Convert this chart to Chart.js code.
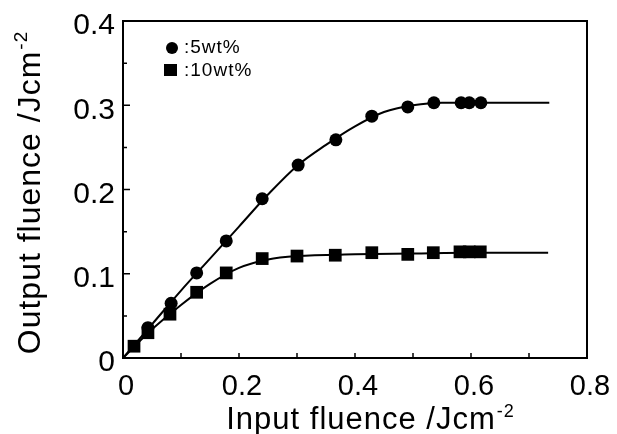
<!DOCTYPE html>
<html>
<head>
<meta charset="utf-8">
<script src="https://cdn.jsdelivr.net/npm/chart.js@4"></script>
<style>
  html, body { margin: 0; padding: 0; background: #fff; }
  #wrap { width: 617px; height: 434px; }
</style>
</head>
<body>
<div id="wrap"><canvas id="chart" width="617" height="434"></canvas></div>
<script>
// ===================
// Data
// ===================
const x5 = [0.043, 0.083, 0.127, 0.178, 0.240, 0.302, 0.367, 0.429, 0.491, 0.536, 0.583, 0.597, 0.617];
const y5 = [0.036, 0.065, 0.101, 0.139, 0.189, 0.229, 0.259, 0.287, 0.298, 0.303, 0.303, 0.303, 0.303];
const x10 = [0.019, 0.043, 0.081, 0.127, 0.178, 0.240, 0.300, 0.366, 0.429, 0.491, 0.535, 0.581, 0.597, 0.616];
const y10 = [0.014, 0.030, 0.052, 0.078, 0.101, 0.118, 0.121, 0.122, 0.125, 0.123, 0.125, 0.126, 0.126, 0.126];

// fitted curves drawn through the points
const fit5X = [0, 0.05, 0.10, 0.15, 0.20, 0.25, 0.30, 0.35, 0.40, 0.45, 0.50, 0.55, 0.60, 0.65, 0.735];
const fit5Y = [0, 0.040, 0.080, 0.118, 0.156, 0.194, 0.228, 0.253, 0.275, 0.292, 0.300, 0.303, 0.303, 0.303, 0.303];
const fit10X = [0, 0.05, 0.10, 0.15, 0.20, 0.25, 0.30, 0.40, 0.50, 0.60, 0.733];
const fit10Y = [0, 0.034, 0.063, 0.088, 0.107, 0.117, 0.121, 0.123, 0.124, 0.125, 0.125];

const legendLabels = [':5wt%', ':10wt%'];
const xTitle = 'Input fluence /Jcm';
const yTitle = 'Output fluence /Jcm';
const unitSup = '-2';

const pts = (xs, ys) => xs.map((x, i) => ({ x: x, y: ys[i] }));
const FONT = '"Liberation Sans", Arial, sans-serif';

// draws "title" + raised "-2", centred on cx, baseline at 0 of current transform
function supTitle(ctx, text, cx, base, size, supSize, rise) {
  ctx.letterSpacing = '1px';
  ctx.font = size + 'px ' + FONT;
  const w = ctx.measureText(text).width;
  ctx.font = supSize + 'px ' + FONT;
  const ws = ctx.measureText(unitSup).width;
  const sx = cx - (w + ws) / 2;
  ctx.font = size + 'px ' + FONT;
  ctx.fillText(text, sx, base);
  ctx.font = supSize + 'px ' + FONT;
  ctx.fillText(unitSup, sx + w + 1, base - rise);
  ctx.letterSpacing = '0px';
}

// ===================
// Frame, ticks, legend and titles
// ===================
const framePlugin = {
  id: 'frame',
  afterDraw(chart) {
    const ctx = chart.ctx;
    const a = chart.chartArea;
    const xs = chart.scales.x, ys = chart.scales.y;
    ctx.save();
    ctx.strokeStyle = '#000';
    ctx.lineWidth = 2;
    ctx.strokeRect(a.left, a.top, a.right - a.left, a.bottom - a.top);

    // inward ticks
    ctx.lineWidth = 1.5;
    ctx.beginPath();
    for (let i = 1; i < 8; i++) {
      const px = xs.getPixelForValue(i / 10);
      ctx.moveTo(px, a.bottom);
      ctx.lineTo(px, a.bottom - 5);
    }
    for (let i = 1; i < 8; i++) {
      const py = ys.getPixelForValue(i * 0.05);
      ctx.moveTo(a.left, py);
      ctx.lineTo(a.left + (i % 2 === 0 ? 7 : 4), py);
    }
    ctx.stroke();

    // legend
    ctx.fillStyle = '#000';
    ctx.beginPath();
    ctx.arc(172, 48, 6, 0, Math.PI * 2);
    ctx.fill();
    ctx.fillRect(164, 64, 13, 12);
    ctx.font = '19px ' + FONT;
    ctx.letterSpacing = '1px';
    ctx.textBaseline = 'middle';
    ctx.textAlign = 'left';
    ctx.fillText(legendLabels[0], 184, 48);
    ctx.fillText(legendLabels[1], 184, 71);

    // x title
    ctx.textBaseline = 'alphabetic';
    supTitle(ctx, xTitle, 370, 429, 31, 18, 12);

    // y title (rotated)
    ctx.translate(40, 193);
    ctx.rotate(-Math.PI / 2);
    supTitle(ctx, yTitle, 0, 0, 32, 19, 13);
    ctx.restore();
  }
};

// ===================
// Chart
// ===================
new Chart(document.getElementById('chart'), {
  type: 'scatter',
  data: {
    datasets: [
      { label: 'fit5', data: pts(fit5X, fit5Y), showLine: true, pointRadius: 0,
        borderColor: '#000', borderWidth: 2, cubicInterpolationMode: 'monotone' },
      { label: 'fit10', data: pts(fit10X, fit10Y), showLine: true, pointRadius: 0,
        borderColor: '#000', borderWidth: 2, cubicInterpolationMode: 'monotone' },
      { label: legendLabels[0], data: pts(x5, y5), pointStyle: 'circle', pointRadius: 6.5,
        backgroundColor: '#000', borderColor: '#000', borderWidth: 0 },
      { label: legendLabels[1], data: pts(x10, y10), pointStyle: 'rect', pointRadius: 9,
        backgroundColor: '#000', borderColor: '#000', borderWidth: 0 }
    ]
  },
  options: {
    responsive: false,
    animation: false,
    layout: { padding: { left: 0, top: 21, right: 30, bottom: 0 } },
    plugins: { legend: { display: false }, tooltip: { enabled: false } },
    scales: {
      x: {
        type: 'linear', min: 0, max: 0.8,
        grid: { display: false }, border: { display: false },
        afterFit(s) { s.height = 76; },
        ticks: {
          stepSize: 0.2, padding: 4, labelOffset: 3, color: '#000',
          font: { family: FONT, size: 29 },
          maxRotation: 0,
          callback: v => String(Math.round(v * 10) / 10)
        }
      },
      y: {
        type: 'linear', min: 0, max: 0.4,
        grid: { display: false }, border: { display: false },
        afterFit(s) { s.width = 123; },
        ticks: {
          stepSize: 0.1, padding: 0, labelOffset: 5, color: '#000',
          font: { family: FONT, size: 30 },
          callback: v => String(Math.round(v * 10) / 10)
        }
      }
    }
  },
  plugins: [framePlugin]
});
</script>
</body>
</html>
